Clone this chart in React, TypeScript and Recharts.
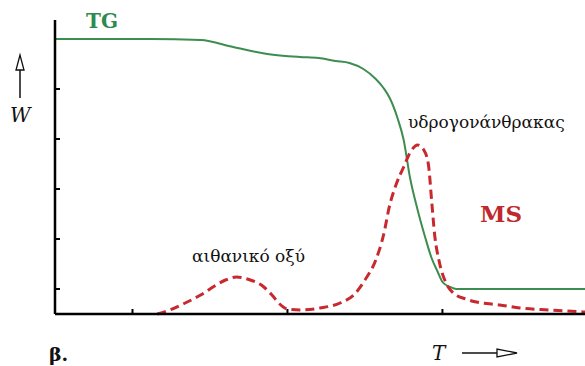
import { Line, LineChart, XAxis, YAxis } from 'recharts';

// TG curve (weight vs temperature), arbitrary units
const tgT = [0, 0.61, 0.94, 1.15, 1.37, 1.58, 1.7, 1.81, 1.9, 1.99, 2.07, 2.12, 2.16, 2.21, 2.25, 2.29, 2.34, 2.39, 2.43, 2.47, 2.5, 2.55, 2.59, 3.42];
const tgW = [5.5, 5.5, 5.48, 5.34, 5.2, 5.14, 5.12, 5.06, 5.02, 4.9, 4.7, 4.52, 4.32, 3.92, 3.48, 2.74, 2.08, 1.52, 1.12, 0.84, 0.64, 0.54, 0.5, 0.5];

// MS signal, two evolved-gas peaks
const msT = [0.66, 0.74, 0.84, 0.94, 1.03, 1.1, 1.17, 1.26, 1.34, 1.4, 1.45, 1.5, 1.58, 1.71, 1.84, 1.94, 2.0, 2.07, 2.12, 2.16, 2.2, 2.25, 2.29, 2.34, 2.38, 2.41, 2.43, 2.45, 2.48, 2.52, 2.57, 2.65, 2.72, 2.87, 3.0, 3.19, 3.42];
const msI = [0, 0.08, 0.22, 0.38, 0.56, 0.68, 0.74, 0.68, 0.56, 0.38, 0.2, 0.1, 0.08, 0.12, 0.22, 0.42, 0.68, 1.08, 1.58, 2.18, 2.58, 2.94, 3.22, 3.38, 3.28, 2.98, 2.28, 1.58, 1.04, 0.64, 0.42, 0.3, 0.24, 0.18, 0.12, 0.08, 0.04];

const xTicks = [0.5, 1.5, 2.5];
const yTicks = [0.5, 1.5, 2.5, 3.5, 4.5];

const tgData = tgT.map((t, i) => ({ t, v: tgW[i] }));
const msData = msT.map((t, i) => ({ t, v: msI[i] }));

const serif = { fontFamily: '"DejaVu Serif", serif' };

// tick marks only, no labels
const NoLabel = () => <g />;

export default function App() {
  return (
    <div style={{ position: 'absolute', left: 0, top: 0, width: 585, height: 366, background: '#fff' }}>
      <LineChart width={585} height={366} margin={{ top: 20, right: 0, bottom: 52, left: 55 }}>
        <XAxis
          type="number"
          dataKey="t"
          domain={[0, 3.42]}
          ticks={xTicks}
          height={1}
          mirror
          tick={NoLabel}
          tickSize={5}
          axisLine={{ stroke: '#000', strokeWidth: 2.5 }}
          tickLine={{ stroke: '#000', strokeWidth: 2 }}
        />
        <YAxis
          type="number"
          domain={[0, 5.88]}
          ticks={yTicks}
          width={1}
          mirror
          tick={NoLabel}
          tickSize={5}
          axisLine={{ stroke: '#000', strokeWidth: 2.5 }}
          tickLine={{ stroke: '#000', strokeWidth: 2 }}
        />
        <Line
          data={tgData}
          dataKey="v"
          type="monotone"
          stroke="#3c8d4f"
          strokeWidth={2}
          dot={false}
          isAnimationActive={false}
        />
        <Line
          data={msData}
          dataKey="v"
          type="monotone"
          stroke="#c8282e"
          strokeWidth={3}
          strokeDasharray="9 5"
          dot={false}
          isAnimationActive={false}
        />
      </LineChart>
      <svg width={585} height={366} style={{ position: 'absolute', left: 0, top: 0, pointerEvents: 'none' }}>
        <text x={86} y={28} style={serif} fontWeight="bold" fontSize={20} fill="#2f8a4f">TG</text>
        <text x={480} y={222} style={serif} fontWeight="bold" fontSize={23} fill="#c0282e">MS</text>
        <text x={408} y={128} style={serif} fontSize={17} fill="#111">υδρογονάνθρακας</text>
        <text x={192} y={262} style={serif} fontSize={17} fill="#111">αιθανικό οξύ</text>
        <text x={10} y={122} style={serif} fontStyle="italic" fontSize={20} fill="#111">W</text>
        <text x={432} y={360} style={serif} fontStyle="italic" fontSize={20} fill="#111">T</text>
        <text x={49} y={361} style={serif} fontWeight="bold" fontSize={19} fill="#111">β.</text>
        {/* W arrow */}
        <line x1={20} y1={70} x2={20} y2={98} stroke="#111" strokeWidth={1.5} />
        <polygon points="20,55 16,70 24,70" fill="#fff" stroke="#111" strokeWidth={1.3} />
        {/* T arrow */}
        <line x1={462} y1={353} x2={497} y2={353} stroke="#111" strokeWidth={1.5} />
        <polygon points="497,349 497,357 517,353" fill="#fff" stroke="#111" strokeWidth={1.3} />
      </svg>
    </div>
  );
}
